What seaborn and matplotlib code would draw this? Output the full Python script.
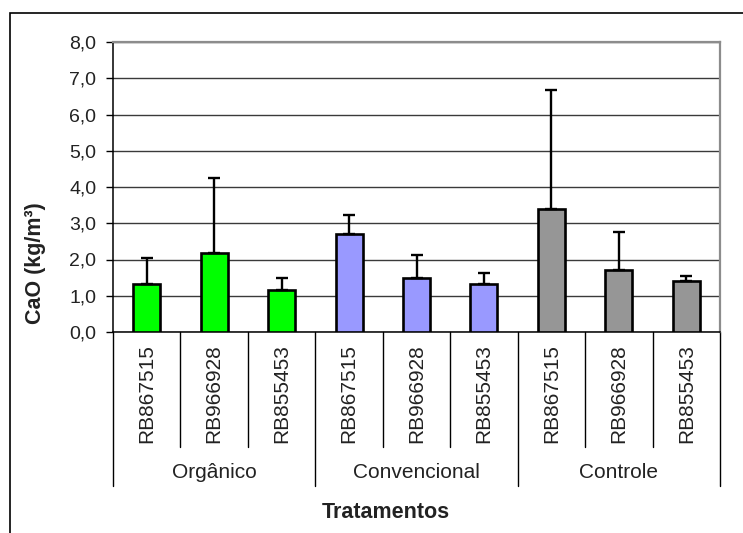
import numpy as np
import pandas as pd
import matplotlib
matplotlib.use("Agg")
import matplotlib.pyplot as plt
from matplotlib.patches import Rectangle
from matplotlib.ticker import FixedLocator, FixedFormatter
import seaborn as sns

# ---- data ----
groups = ["Orgânico", "Convencional", "Controle"]
cultivars = ["RB867515", "RB966928", "RB855453"]
cao_mean = [1.33, 2.19, 1.17, 2.70, 1.48, 1.33, 3.39, 1.70, 1.41]
cao_err = [0.71, 2.06, 0.31, 0.52, 0.65, 0.30, 3.29, 1.05, 0.14]
group_colors = ["#00FF00", "#9999FF", "#969696"]
y_ticks = [0, 1, 2, 3, 4, 5, 6, 7, 8]
y_tick_labels = ["0,0", "1,0", "2,0", "3,0", "4,0", "5,0", "6,0", "7,0", "8,0"]

sns.set_theme(style="white")
plt.rcParams["font.family"] = ["Liberation Sans", "DejaVu Sans"]

group_col = [g for g in groups for _ in cultivars]
cult_col = [c for _ in groups for c in cultivars]
df = pd.DataFrame({
    "grupo": group_col,
    "cultivar": cult_col,
    "chave": [f"{g}|{c}" for g, c in zip(group_col, cult_col)],
    "CaO": cao_mean,
})

W, H = 743, 533
fig = plt.figure(figsize=(W / 100, H / 100), dpi=100)
ax_left, ax_right, ax_top, ax_bottom = 113, 720, 42, 332
ax = fig.add_axes([ax_left / W, 1 - ax_bottom / H,
                   (ax_right - ax_left) / W, (ax_bottom - ax_top) / H])

sns.barplot(data=df, x="chave", y="CaO", hue="grupo", palette=group_colors,
            saturation=1, dodge=False, width=0.4, edgecolor="black",
            linewidth=1.9, legend=False, ax=ax, zorder=3)

xpos = np.arange(len(cao_mean))
ax.errorbar(xpos, cao_mean, yerr=[np.zeros(len(cao_err)), cao_err],
            fmt="none", ecolor="black", elinewidth=1.7, capsize=4.5,
            capthick=1.7, zorder=4)

ax.set_xlim(-0.5, len(cao_mean) - 0.5)
ax.set_ylim(0, 8)

# y axis
ax.yaxis.set_major_locator(FixedLocator(y_ticks))
ax.yaxis.set_major_formatter(FixedFormatter(y_tick_labels))
ax.tick_params(axis="y", which="major", length=5, width=1, color="black",
               direction="out", left=True, labelsize=14, pad=7,
               labelcolor="#222222")
ax.grid(axis="y", color="#3a3a3a", linewidth=1, zorder=0)
ax.set_axisbelow(True)

# x axis labels
ax.set_xticks(xpos)
ax.set_xticklabels(cult_col, rotation=90, fontsize=15, color="#222222")
ax.tick_params(axis="x", length=0, pad=9)
ax.set_xlabel("")
ax.set_ylabel("")

for side in ["left", "bottom"]:
    ax.spines[side].set_color("black")
    ax.spines[side].set_linewidth(1.1)
for side in ["top", "right"]:
    ax.spines[side].set_color("#8c8c8c")
    ax.spines[side].set_linewidth(1.6)

# category separators below the axis
trans = ax.get_xaxis_transform()
cat_depth = (ax_bottom - 447) / (ax_bottom - ax_top)
grp_depth = (ax_bottom - 486) / (ax_bottom - ax_top)
for i in range(len(cao_mean) + 1):
    edge = i - 0.5
    depth = grp_depth if i % len(cultivars) == 0 else cat_depth
    ax.plot([edge, edge], [0, depth], transform=trans, color="black",
            linewidth=1, clip_on=False)

label_y = (ax_bottom - 473) / (ax_bottom - ax_top)
for gi, g in enumerate(groups):
    center = gi * len(cultivars) + (len(cultivars) - 1) / 2
    ax.text(center, label_y, g, transform=trans, ha="center", va="center",
            fontsize=15, color="#222222")

fig.text(386 / W, 1 - 513 / H, "Tratamentos", ha="center", va="center",
         fontsize=15.5, fontweight="bold", color="#222222")
fig.text(36 / W, 1 - 263 / H, "CaO (kg/m³)", ha="center", va="center",
         rotation=90, fontsize=15.5, fontweight="bold", color="#222222")

# outer chart frame
fig.patches.append(Rectangle((10 / W, -0.05), 1.0, 1 - 13 / H + 0.05,
                             transform=fig.transFigure, fill=False,
                             edgecolor="black", linewidth=1.2))

fig.savefig("out.png", dpi=100)
